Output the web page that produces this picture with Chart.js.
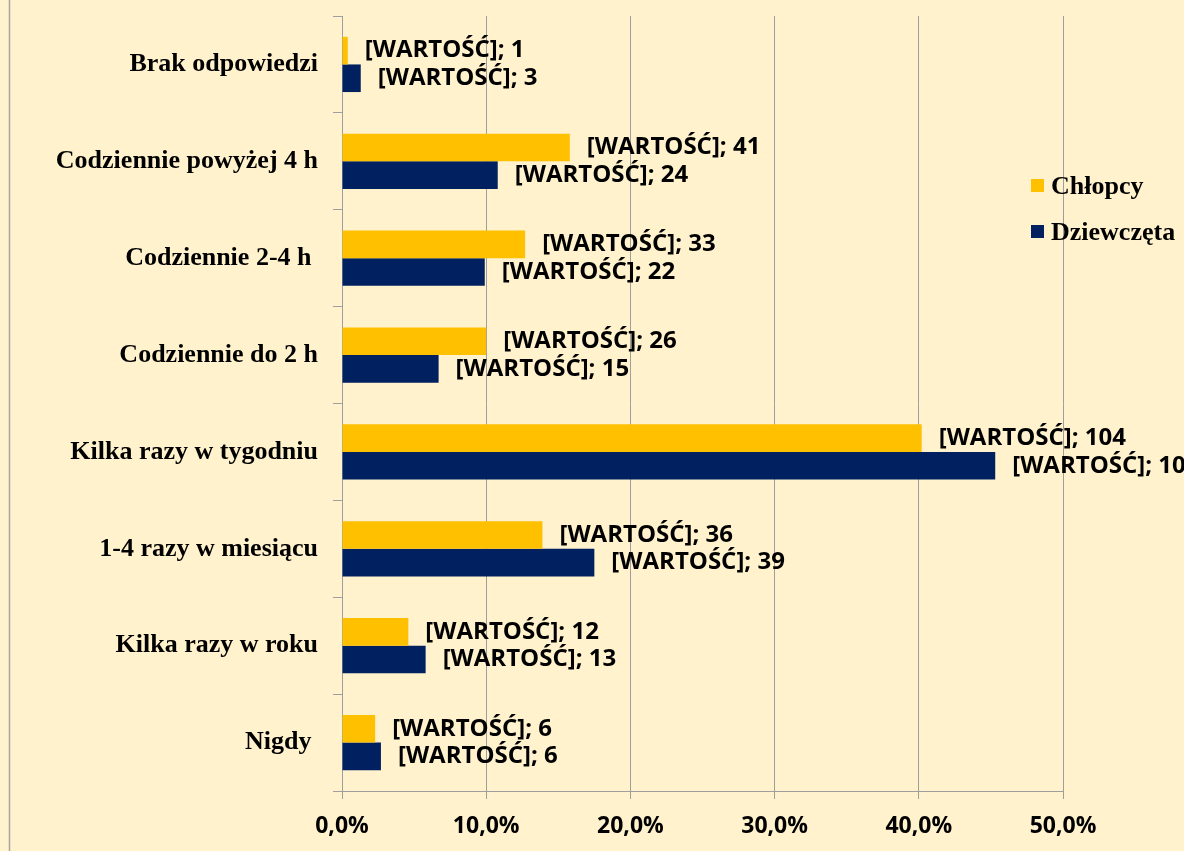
<!DOCTYPE html>
<html lang="pl">
<head>
  <meta charset="UTF-8" />
  <title>Częstotliwość - Chłopcy / Dziewczęta</title>
  <script src="https://cdn.jsdelivr.net/npm/chart.js"></script>
  <style>
    html, body {
      margin: 0;
      padding: 0;
      overflow: hidden;
      background: #FFF2CC;
    }
    .wrap {
      position: relative;
      width: 1184px;
      height: 851px;
    }
  </style>
</head>
<body>
  <div class="wrap">
    <canvas id="chart"></canvas>
  </div>

  <script>
    // categories, top to bottom
    const categories = [
      "Brak odpowiedzi",
      "Codziennie powyżej 4 h",
      "Codziennie 2-4 h ",
      "Codziennie do 2 h",
      "Kilka razy w tygodniu",
      "1-4 razy w miesiącu",
      "Kilka razy w roku",
      "Nigdy "
    ];

    // percent of respondents (bar length)
    const boysPct  = [0.4, 15.8, 12.7, 10.0, 40.2, 13.9, 4.6, 2.3];
    const girlsPct = [1.3, 10.8, 9.9, 6.7, 45.3, 17.5, 5.8, 2.7];

    // counts shown in data labels
    const boysCount  = [1, 41, 33, 26, 104, 36, 12, 6];
    const girlsCount = [3, 24, 22, 15, 101, 39, 13, 6];

    const xTicks = [0, 10, 20, 30, 40, 50];

    const YELLOW = "#FFC000";
    const NAVY = "#002060";
    const GRID = "#9E9E9E";
    const BG = "#FFF2CC";

    const sansBold = "bold 24px 'Open Sans', sans-serif";
    const serifBold = "bold 26px 'Liberation Serif', 'Times New Roman', serif";

    // background + left frame line
    const backgroundPlugin = {
      id: "bg",
      beforeDraw(chart) {
        const ctx = chart.ctx;
        ctx.save();
        ctx.fillStyle = BG;
        ctx.fillRect(0, 0, chart.width, chart.height);
        ctx.strokeStyle = "#A6A6A6";
        ctx.lineWidth = 1.5;
        ctx.beginPath();
        ctx.moveTo(9.5, 0);
        ctx.lineTo(9.5, chart.height);
        ctx.stroke();
        ctx.restore();
      }
    };

    // "[WARTOŚĆ]; n" labels at the bar ends
    const valueLabels = {
      id: "valueLabels",
      afterDatasetsDraw(chart) {
        const ctx = chart.ctx;
        ctx.save();
        ctx.font = sansBold;
        ctx.fillStyle = "#000";
        ctx.textAlign = "left";
        ctx.textBaseline = "middle";
        chart.data.datasets.forEach((ds, i) => {
          const meta = chart.getDatasetMeta(i);
          meta.data.forEach((bar, j) => {
            ctx.fillText("[WARTOŚĆ]; " + ds.counts[j], bar.x + 17, bar.y);
          });
        });
        ctx.restore();
      }
    };

    // legend drawn over the right part of the plot
    const sideLegend = {
      id: "sideLegend",
      afterDraw(chart) {
        const ctx = chart.ctx;
        const items = [
          { text: "Chłopcy", color: YELLOW, y: 186 },
          { text: "Dziewczęta", color: NAVY, y: 232 }
        ];
        ctx.save();
        ctx.font = serifBold;
        ctx.textAlign = "left";
        ctx.textBaseline = "middle";
        items.forEach(it => {
          ctx.fillStyle = it.color;
          ctx.fillRect(1031, it.y - 7, 13, 13);
          ctx.fillStyle = "#000";
          ctx.fillText(it.text, 1051, it.y + 1);
        });
        ctx.restore();
      }
    };

    new Chart(document.getElementById("chart"), {
      type: "bar",
      data: {
        labels: categories,
        datasets: [
          {
            label: "Chłopcy",
            data: boysPct,
            counts: boysCount,
            backgroundColor: YELLOW,
            categoryPercentage: 0.57,
            barPercentage: 1.0
          },
          {
            label: "Dziewczęta",
            data: girlsPct,
            counts: girlsCount,
            backgroundColor: NAVY,
            categoryPercentage: 0.57,
            barPercentage: 1.0
          }
        ]
      },
      options: {
        indexAxis: "y",
        responsive: true,
        maintainAspectRatio: false,
        animation: false,
        layout: {
          padding: { left: 0, right: 121, top: 16, bottom: 0 }
        },
        plugins: {
          legend: { display: false },
          tooltip: { enabled: false }
        },
        scales: {
          x: {
            min: 0,
            max: 50,
            afterBuildTicks: scale => {
              scale.ticks = xTicks.map(v => ({ value: v }));
            },
            afterFit: scale => {
              scale.height = 60;
              scale.paddingLeft = 0;
              scale.paddingRight = 0;
            },
            grid: {
              color: GRID,
              drawOnChartArea: true,
              drawTicks: true,
              tickLength: 8
            },
            border: { display: true, color: GRID },
            ticks: {
              padding: 14,
              color: "#000",
              font: { family: "'Open Sans', sans-serif", size: 23, weight: "bold" },
              callback: v => v.toFixed(1).replace(".", ",") + "%"
            }
          },
          y: {
            afterFit: scale => {
              scale.width = 342;
              scale.paddingTop = 0;
              scale.paddingBottom = 0;
            },
            grid: {
              color: GRID,
              drawOnChartArea: false,
              drawTicks: true,
              tickLength: 9,
              offset: true
            },
            border: { display: true, color: GRID },
            ticks: {
              padding: 15,
              color: "#000",
              font: { family: "'Liberation Serif', 'Times New Roman', serif", size: 26, weight: "bold" }
            }
          }
        }
      },
      plugins: [backgroundPlugin, valueLabels, sideLegend]
    });
  </script>
</body>
</html>
